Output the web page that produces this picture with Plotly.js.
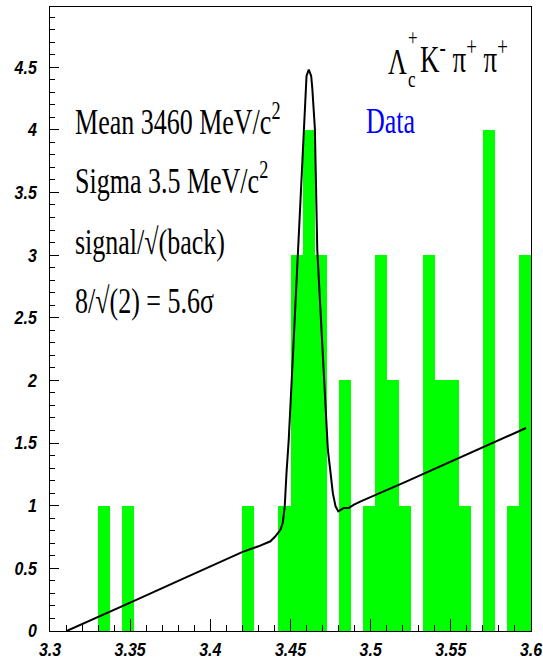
<!DOCTYPE html>
<html>
<head>
<meta charset="utf-8">
<script src="https://cdn.plot.ly/plotly-3.0.1.min.js"></script>
<style>
  html, body { margin: 0; padding: 0; background: #ffffff; }
  #chart { width: 543px; height: 661px; }
</style>
</head>
<body>
<div id="chart"></div>
<script>
// Histogram: Λc+ K- π+ π+ invariant mass (GeV/c^2), 40 bins from 3.3 to 3.6
var binStart = 3.3;
var binWidth = 0.0075;
var counts = [0,0,0,0,1,0,1,0,0,0,
              0,0,0,0,0,0,1,0,0,1,
              3,4,3,0,2,0,1,3,2,1,
              0,3,2,2,1,0,4,0,1,3];

// Fit curve (linear background + Gaussian)
var fitX = [3.3104, 3.3292, 3.3521, 3.38, 3.41, 3.4198, 3.430, 3.4352, 3.4375, 3.4406,
            3.4438, 3.4452, 3.4464, 3.4475, 3.4489, 3.4517, 3.4546, 3.4583, 3.4594, 3.4600,
            3.4614, 3.4629, 3.4636, 3.4652, 3.4667, 3.4702, 3.4733, 3.475, 3.4764, 3.4781,
            3.4798, 3.4833, 3.4864, 3.4896, 3.4938, 3.52, 3.55, 3.5969];
var fitY = [0, 0.105, 0.238, 0.40, 0.57, 0.63, 0.676, 0.703, 0.716, 0.756,
            0.81, 0.863, 0.995, 1.26, 1.527, 2.245, 3.04, 4.01, 4.33, 4.43,
            4.48, 4.43, 4.33, 4.01, 3.04, 2.245, 1.447, 1.26, 1.10, 0.995,
            0.955, 0.982, 0.982, 1.009, 1.035, 1.18, 1.35, 1.62];

var xTickVals = [3.3, 3.35, 3.4, 3.45, 3.5, 3.55, 3.6];
var xTickText = ["3.3", "3.35", "3.4", "3.45", "3.5", "3.55", "3.6"];
var yTickVals = [0, 0.5, 1, 1.5, 2, 2.5, 3, 3.5, 4, 4.5];
var yTickText = ["0", "0.5", "1", "1.5", "2", "2.5", "3", "3.5", "4", "4.5"];

var infoLines = ["Mean 3460 MeV/c<sup>2</sup>",
                 "Sigma 3.5 MeV/c<sup>2</sup>",
                 "signal/√(back)",
                 "8/√(2) = 5.6σ"];
var titleMain = "Λ";
var titleSup = "+";
var titleSub = "c";
var titleRest = "K<sup>-</sup> π<sup>+</sup> π<sup>+</sup>";
var legendText = "Data";

var binCenters = counts.map(function (c, i) { return binStart + (i + 0.5) * binWidth; });

var bars = {
  type: "bar",
  x: binCenters,
  y: counts,
  width: binWidth,
  marker: { color: "#00ff00", line: { width: 0 } },
  hoverinfo: "skip"
};

var fit = {
  type: "scatter",
  mode: "lines",
  x: fitX,
  y: fitY,
  line: { color: "#000000", width: 2 },
  hoverinfo: "skip"
};

var tickFont = { family: "Liberation Sans, Arial, sans-serif", size: 16, color: "#000000", weight: "bold", style: "italic" };
var serif = "Liberation Serif, Times New Roman, serif";

function ann(text, x, y, xanchor, size, color) {
  return { text: text, x: x, y: y, xref: "x", yref: "y", xanchor: xanchor, yanchor: "middle",
           showarrow: false, borderpad: 0, font: { family: serif, size: size, color: color } };
}

var infoY = [4.086, 3.615, 3.097, 2.626];
var annotations = infoLines.map(function (t, i) { return ann(t, 3.3150, infoY[i], "left", 26, "#000000"); });
annotations.push(ann(legendText, 3.4962, 4.07, "left", 26, "#0000ff"));
annotations.push(ann(titleMain, 3.5102, 4.54, "left", 26, "#000000"));
annotations.push(ann(titleSup, 3.5262, 4.733, "center", 17, "#000000"));
annotations.push(ann(titleSub, 3.5260, 4.405, "center", 17, "#000000"));
annotations.push(ann(titleRest, 3.5300, 4.59, "left", 27, "#000000"));

var layout = {
  width: 543,
  height: 661,
  margin: { l: 50, r: 12, t: 7, b: 30, pad: 0 },
  paper_bgcolor: "#ffffff",
  plot_bgcolor: "#ffffff",
  showlegend: false,
  bargap: 0,
  xaxis: {
    range: [3.3, 3.6],
    tickmode: "array",
    tickvals: xTickVals,
    ticktext: xTickText,
    ticks: "inside",
    ticklen: 12,
    tickwidth: 1,
    tickcolor: "#000000",
    minor: { dtick: 0.01, tick0: 3.3, ticks: "inside", ticklen: 6, tickwidth: 1, tickcolor: "#000000", showgrid: false },
    showline: true,
    linecolor: "#000000",
    linewidth: 1,
    mirror: true,
    showgrid: false,
    zeroline: false,
    tickfont: tickFont,
    ticklabelstandoff: 4
  },
  yaxis: {
    range: [0, 4.98],
    tickmode: "array",
    tickvals: yTickVals,
    ticktext: yTickText,
    ticks: "inside",
    ticklen: 9,
    tickwidth: 1,
    tickcolor: "#000000",
    minor: { dtick: 0.1, tick0: 0, ticks: "inside", ticklen: 5, tickwidth: 1, tickcolor: "#000000", showgrid: false },
    showline: true,
    linecolor: "#000000",
    linewidth: 1,
    mirror: true,
    showgrid: false,
    zeroline: false,
    tickfont: tickFont,
    ticklabelstandoff: 9
  },
  annotations: annotations
};

// vertical stretch of a text element about its own centre, keeping any existing transform
function stretchAttr(sel, k) {
  document.querySelectorAll(sel).forEach(function (t) {
    var bb = t.getBBox();
    var cy = bb.y + bb.height / 2;
    var prev = t.getAttribute("transform") || "";
    t.setAttribute("transform", prev + " translate(0," + cy + ") scale(1," + k + ") translate(0," + (-cy) + ")");
  });
}

Plotly.newPlot("chart", [bars, fit], layout, { staticPlot: true, displayModeBar: false }).then(function () {
  stretchAttr("#chart .annotation-text", 1.4);
  stretchAttr("#chart .xtick text, #chart .ytick text", 1.15);
});
</script>
</body>
</html>
